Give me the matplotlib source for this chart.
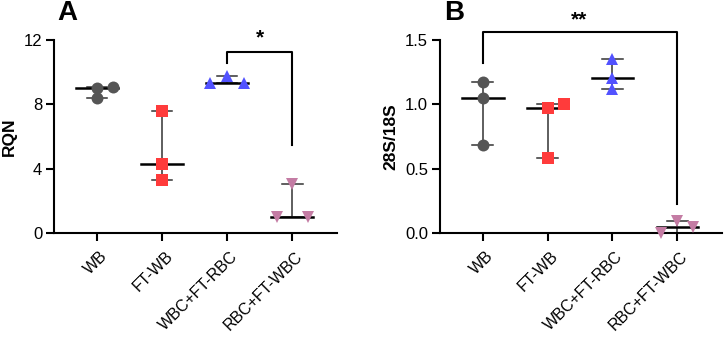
import matplotlib
matplotlib.use("Agg")
import matplotlib.pyplot as plt
import matplotlib.transforms as mtransforms
import numpy as np

plt.rcParams['font.family'] = ['Liberation Sans', 'DejaVu Sans']

categories = ["WB", "FT-WB", "WBC+FT-RBC", "RBC+FT-WBC"]

# Panel A: RQN values (3 replicates per group)
rqn_wb = [9.0, 9.1, 8.4]
rqn_ftwb = [7.6, 4.3, 3.3]
rqn_wbc_ftrbc = [9.3, 9.77, 9.35]
rqn_rbc_ftwbc = [3.07, 1.0, 1.0]

# Panel B: 28S/18S ratio
r_wb = [1.17, 1.052, 0.685]
r_ftwb = [0.975, 1.005, 0.585]
r_wbc_ftrbc = [1.355, 1.208, 1.117]
r_rbc_ftwbc = [0.0, 0.092, 0.05]

# horizontal jitter (layout of overlapping points)
jit_a = [[0, 0.25, 0], [0, 0, 0], [-0.26, 0, 0.26], [0, -0.23, 0.25]]
jit_b = [[0, 0, 0], [0, 0.26, 0], [0, 0, 0], [-0.25, 0, 0.25]]

colors = ["#555555", "#ff3b3b", "#5252ff", "#c47ca4"]
markers = ["o", "s", "^", "v"]
msizes = [8.6, 8.0, 9.0, 9.0]

fig = plt.figure(figsize=(7.24, 3.37), dpi=100)
axA = fig.add_axes([54/724, 1-233/337, (337-54)/724, 193/337])
axB = fig.add_axes([440/724, 1-233/337, (722-440)/724, 193/337])


def draw(ax, groups, jit):
    for i, vals in enumerate(groups):
        v = np.array(vals)
        med = np.median(v)
        lo, hi = v.min(), v.max()
        ax.plot([i, i], [lo, hi], color="#333333", lw=1.1, zorder=2, clip_on=False)
        ax.plot([i-0.16, i+0.16], [hi, hi], color="#333333", lw=1.1, zorder=2, clip_on=False)
        ax.plot([i-0.16, i+0.16], [lo, lo], color="#333333", lw=1.1, zorder=2, clip_on=False)
        ax.plot([i-0.32, i+0.32], [med, med], color="black", lw=1.8, zorder=2, clip_on=False)
        ax.plot(np.array(jit[i]) + i, v, linestyle="none", marker=markers[i],
                ms=msizes[i], color=colors[i], mew=0, zorder=3, clip_on=False)


def style(ax):
    for s in ["top", "right"]:
        ax.spines[s].set_visible(False)
    for s in ["left", "bottom"]:
        ax.spines[s].set_linewidth(1.5)
    ax.tick_params(axis="both", length=6, width=1.5, colors="black")
    ax.tick_params(axis="y", pad=2.5, labelsize=12)
    ax.tick_params(axis="x", pad=3, labelsize=11.5)
    ax.set_xticks(range(len(categories)))
    ax.set_xticklabels(categories, rotation=45, ha="right", va="top",
                       rotation_mode="anchor")
    off = mtransforms.ScaledTranslation(3/100, -3/100, fig.dpi_scale_trans)
    for lab in ax.get_xticklabels():
        lab.set_transform(lab.get_transform() + off)
    ax.set_xlim(-0.66, 3.69)


draw(axA, [rqn_wb, rqn_ftwb, rqn_wbc_ftrbc, rqn_rbc_ftwbc], jit_a)
style(axA)
axA.set_ylim(0, 12)
axA.set_yticks([0, 4, 8, 12])
axA.set_ylabel("RQN", fontsize=12.5, fontweight="bold")
axA.yaxis.set_label_coords(-0.13, 0.5)
axA.plot([2, 2, 3, 3], [10.57, 11.26, 11.26, 5.47], color="black", lw=1.5, clip_on=False)
axA.text(2.5, 11.55, "*", ha="center", va="bottom", fontsize=15, fontweight="bold")
fig.text(57/724, 1-13/337, "A", fontsize=20, fontweight="bold", va="center", ha="left")

draw(axB, [r_wb, r_ftwb, r_wbc_ftrbc, r_rbc_ftwbc], jit_b)
style(axB)
axB.set_ylim(0, 1.5)
axB.set_yticks([0.0, 0.5, 1.0, 1.5])
axB.set_yticklabels(["0.0", "0.5", "1.0", "1.5"])
axB.set_ylabel("28S/18S", fontsize=12.5, fontweight="bold")
axB.yaxis.set_label_coords(-0.149, 0.5)
axB.plot([0, 0, 3, 3], [1.323, 1.564, 1.564, 0.225], color="black", lw=1.5, clip_on=False)
axB.text(1.49, 1.585, "**", ha="center", va="bottom", fontsize=15, fontweight="bold")
fig.text(444/724, 1-13/337, "B", fontsize=20, fontweight="bold", va="center", ha="left")

fig.savefig("out.png", dpi=100)
